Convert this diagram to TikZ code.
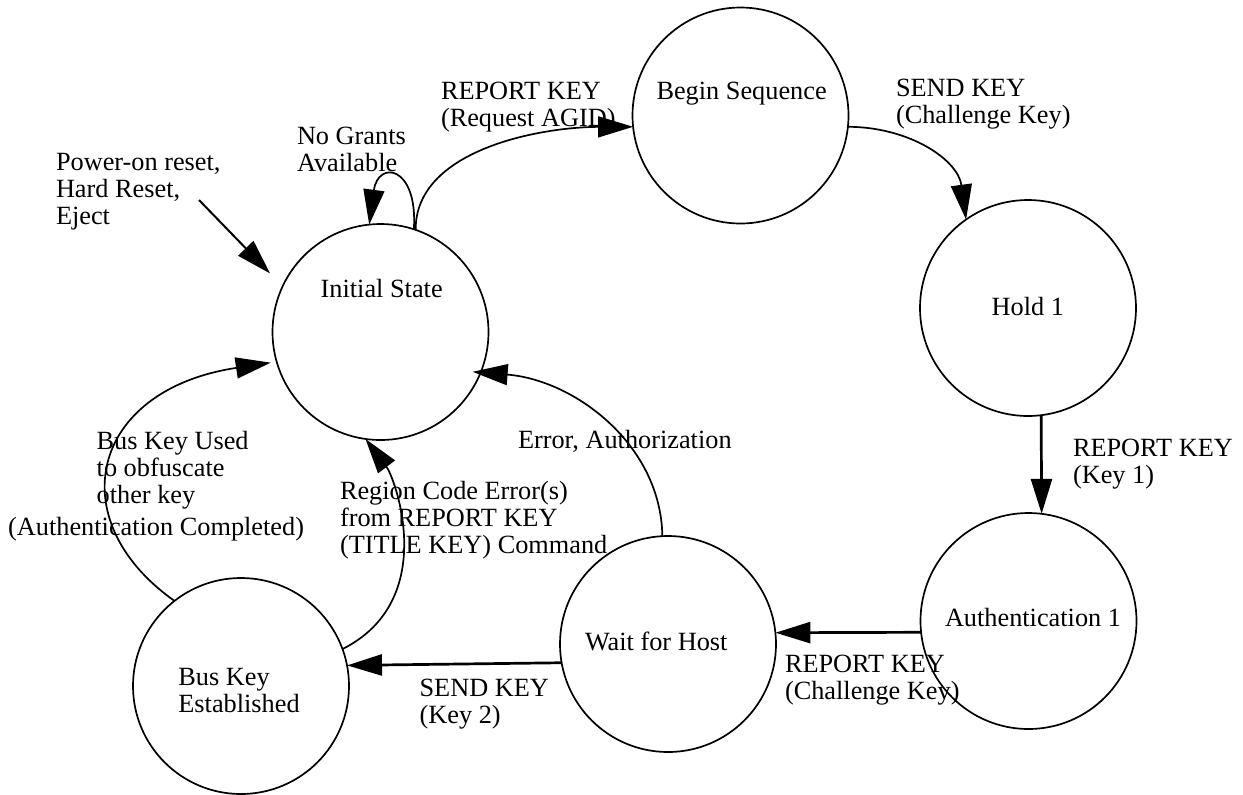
\documentclass[tikz,border=0pt]{standalone}
\usepackage{fontspec}
\setmainfont{Liberation Serif}
\usetikzlibrary{arrows.meta}
\begin{document}
\begin{tikzpicture}[x=0.5pt,y=-0.5pt,
  every node/.style={font=\fontsize{13.15pt}{13.5pt}\selectfont},
  state/.style={circle, draw, line width=0.85pt, minimum size=108pt, inner sep=0pt, outer sep=0pt},
  % multi-line texts are placed by the baseline of their last line
  txt/.style={inner sep=0pt, outer sep=0pt, anchor=base west, align=left},
  tip/.style={-{Triangle[length=17.5pt,width=10.5pt]}},
  curve/.style={tip, line width=0.85pt},
  heavy/.style={tip, line width=1.35pt},
]
\useasboundingbox (0,0) rectangle (1243,794);

% states
\node[state] (init) at (380.5,332) {};
\node[state] (beg)  at (740.5,115.5) {};
\node[state] (hold) at (1028,308) {};
\node[state] (auth) at (1028.5,621) {};
\node[state] (wait) at (668,644) {};
\node[state] (bus)  at (241,686) {};

% state names
\node[txt] (initT) at (320.7,297.3) {Initial State};
\node[txt] (begT)  at (656.5,99) {Begin Sequence};
\node[txt] (holdT) at (991.7,315) {Hold 1};
\node[txt] (authT) at (945,626.7) {Authentication 1};
\node[txt] (waitT) at (585,650.7) {Wait for Host};
\node[txt] (busT)  at (178.4,712) {Bus Key\\Established};

% reset entry
\coordinate (pw) at (199,200);
\draw[tip, line width=1pt, shorten >=9pt] (pw) -- (init.155);

% transitions
\draw[curve] (init.71.6) .. controls (415,150) and (540,127) .. (beg.186.3);
\draw[curve] (init.72) .. controls (418,165) and (378,160) .. (init.96.5);
\draw[curve] (beg.-6.3) .. controls (910,127) and (958,160) .. (hold.125.3);
\draw[heavy] (hold.-83.6) -- (auth.83.6);
\draw[heavy] (auth.186.1) -- (wait.6.1);
\draw[heavy] (wait.190.7) -- (bus.11.75);
\draw[curve, shorten >=-4pt] (wait.93.9) .. controls (661,445) and (575,380) .. (init.-22);
\draw[curve] (bus.20) .. controls (440,600) and (395,478) .. (init.262.7);
\draw[curve, shorten >=3pt] (bus.128) .. controls (60,520) and (90,390) .. (init.196.8);

% transition labels
\node[txt] (lPw)   at (56,224) {Power-on reset,\\Hard Reset,\\Eject};
\node[txt] (lNo)   at (297,171) {No Grants\\Available};
\node[txt] (lReq)  at (441,126) {REPORT KEY\\(Request AGID)};
\node[txt] (lCh)   at (896,123) {SEND KEY\\(Challenge Key)};
\node[txt] (lK1)   at (1073,483) {REPORT KEY\\(Key 1)};
\node[txt] (lRch)  at (785,699) {REPORT KEY\\(Challenge Key)};
\node[txt] (lK2)   at (419.6,723) {SEND KEY\\(Key 2)};
\node[txt] (lUsed) at (96.7,503) {Bus Key Used\\to obfuscate\\other key};
\node[txt] (lDone) at (8.2,535) {(Authentication Completed)};
\node[txt] (lReg)  at (340,553) {Region Code Error(s)\\from REPORT KEY\\(TITLE KEY) Command};
\node[txt] (lErr)  at (518,448) {Error, Authorization};
\end{tikzpicture}
\end{document}
